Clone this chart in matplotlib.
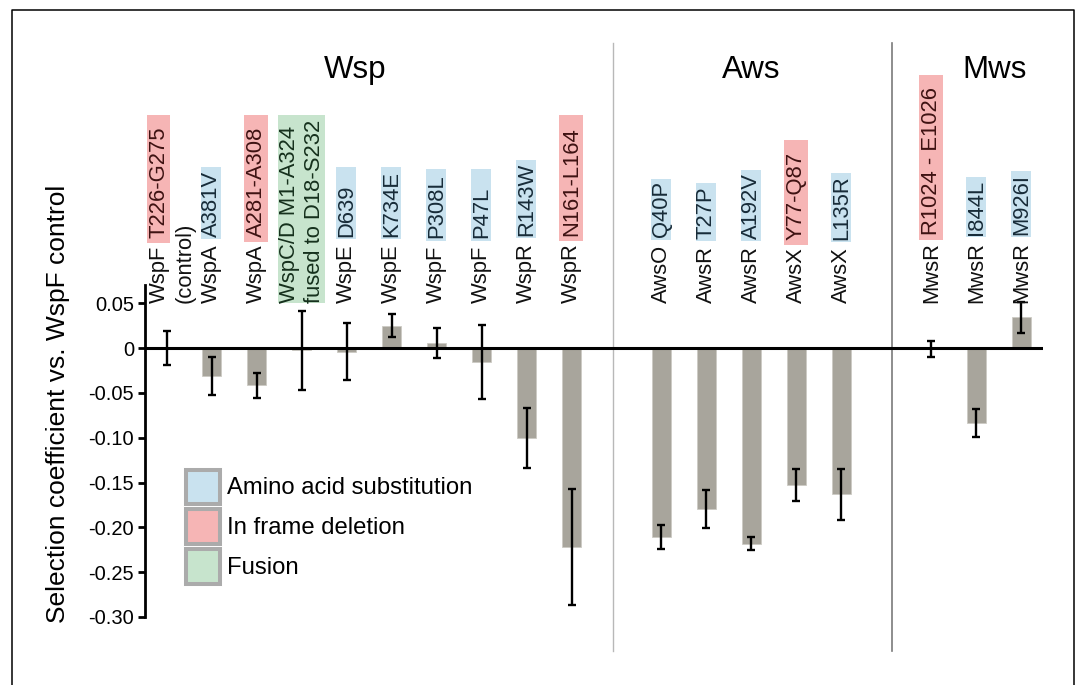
import matplotlib
matplotlib.use('Agg')
import matplotlib.pyplot as plt
import matplotlib.transforms as mtransforms
from matplotlib.patches import Patch, Rectangle
from matplotlib.lines import Line2D

plt.rcParams['font.family'] = ['Liberation Sans', 'DejaVu Sans']

# ---------------- data ----------------
group_names = ['Wsp', 'Aws', 'Mws']
genes = ['WspF', 'WspA', 'WspA', 'WspC/D', 'WspE', 'WspE', 'WspF', 'WspF', 'WspR', 'WspR',
         'AwsO', 'AwsR', 'AwsR', 'AwsX', 'AwsX',
         'MwsR', 'MwsR', 'MwsR']
mutations = ['T226-G275', 'A381V', 'A281-A308', 'M1-A324', 'D639', 'K734E', 'P308L', 'P47L',
             'R143W', 'N161-L164',
             'Q40P', 'T27P', 'A192V', 'Y77-Q87', 'L135R',
             'R1024 - E1026', 'I844L', 'M926I']
second_lines = {0: '(control)', 3: 'fused to D18-S232'}
mut_types = ['del', 'sub', 'del', 'fus', 'sub', 'sub', 'sub', 'sub', 'sub', 'del',
             'sub', 'sub', 'sub', 'del', 'sub',
             'del', 'sub', 'sub']
group_of = [0] * 10 + [1] * 5 + [2] * 3
values = [0.0005, -0.031, -0.0415, -0.0025, -0.004, 0.0252, 0.006, -0.0152, -0.1004, -0.2217,
          -0.2105, -0.1797, -0.218, -0.1529, -0.1631,
          -0.0012, -0.0832, 0.0343]
errors = [0.019, 0.021, 0.0138, 0.0445, 0.032, 0.0128, 0.017, 0.041, 0.0337, 0.0645,
          0.0135, 0.0214, 0.0075, 0.018, 0.0282,
          0.0092, 0.0155, 0.0173]
yticks = [0.05, 0, -0.05, -0.10, -0.15, -0.20, -0.25, -0.30]
yticklabels = ['0.05', '0', '-0.05', '-0.10', '-0.15', '-0.20', '-0.25', '-0.30']
legend_labels = ['Amino acid substitution', 'In frame deletion', 'Fusion']
ylabel = 'Selection coefficient vs. WspF control'

# ---------------- style ----------------
box_colors = {'sub': '#c9e2ef', 'del': '#f6b5b5', 'fus': '#c7e4cd'}
text_colors = {'sub': '#172b38', 'del': '#3e1212', 'fus': '#15301c'}
# highlight box geometry in pixels: (width, pad below text, pad above text)
box_geom = {'sub': (20.5, 2.5, 2.5), 'del': (23.5, 5.0, 12.0)}
min_box_len = [72, 58, 58]   # per group, pixels
bar_color = '#a8a59c'

W, H = 1080, 685
fig = plt.figure(figsize=(W / 100, H / 100), dpi=100)
ax_l, ax_r, ax_t, ax_b = 145, 1043, 285, 617
ax = fig.add_axes([ax_l / W, 1 - ax_b / H, (ax_r - ax_l) / W, (ax_b - ax_t) / H])
ax.patch.set_visible(False)

pos = [i + g for i, g in enumerate(group_of)]

ax.bar(pos, values, width=0.41, color=bar_color, edgecolor='#cdcbc4', linewidth=0.6, zorder=2)
ax.errorbar(pos, values, yerr=errors, fmt='none', ecolor='black', elinewidth=1.7,
            capsize=3.2, capthick=1.7, zorder=4)
ax.axhline(0, color='black', lw=2.2, zorder=3)

ax.set_xlim(-0.48, 19.48)
ax.set_ylim(-0.30, 0.0705)
for s in ['top', 'right', 'bottom']:
    ax.spines[s].set_visible(False)
ax.spines['left'].set_linewidth(2.0)
ax.set_xticks([])
ax.set_yticks(yticks)
ax.set_yticklabels(yticklabels)
ax.tick_params(axis='y', length=5, width=2, labelsize=14.5, pad=3)

fig.text(58 / W, 1 - 404 / H, ylabel, rotation=90, ha='center', va='center', fontsize=19)

trans = mtransforms.blended_transform_factory(ax.transData, fig.transFigure)

# group titles and dividers
title_x = [4.2, 13.0, 18.4]
for name, tx in zip(group_names, title_x):
    ax.text(tx, 1 - 78 / H, name, transform=trans, ha='center', va='baseline', fontsize=22.5)
ax.plot([9.93, 9.93], [1 - 43 / H, 1 - 651 / H], transform=trans, color='#b8b8b8', lw=1.0,
        clip_on=False)
ax.plot([16.13, 16.13], [1 - 43 / H, 1 - 651 / H], transform=trans, color='#7a7a7a', lw=1.2,
        clip_on=False)

# outer frame
fig.add_artist(Line2D([12 / W, 12 / W, 1074 / W, 1074 / W], [0, 1 - 9.5 / H, 1 - 9.5 / H, 0],
                      transform=fig.transFigure, color='black', lw=1.1))

# rotated category labels
fig.canvas.draw()
renderer = fig.canvas.get_renderer()
ybase = 1 - 302.5 / H
fs = 15.8
gap_px = 7
ident = mtransforms.IdentityTransform()


def shifted(dx):
    return mtransforms.offset_copy(trans, fig=fig, x=dx, y=0, units='dots')


def add_box(x0, y0, x1, y1, color):
    ax.add_patch(Rectangle((x0, y0), x1 - x0, y1 - y0, transform=ident, facecolor=color,
                           edgecolor='none', zorder=1, clip_on=False))


for i, x in enumerate(pos):
    t = mut_types[i]
    if t == 'fus':
        tr1, tr2 = shifted(-12.5), shifted(12.5)
        t1 = ax.text(x, ybase, genes[i] + ' ' + mutations[i], transform=tr1, rotation=90,
                     ha='center', va='bottom', fontsize=fs, color=text_colors[t], zorder=6)
        t2 = ax.text(x, ybase, second_lines[i], transform=tr2, rotation=90,
                     ha='center', va='bottom', fontsize=fs, color=text_colors[t], zorder=6)
        b1 = t1.get_window_extent(renderer)
        b2 = t2.get_window_extent(renderer)
        add_box(min(b1.x0, b2.x0) - 0.5, min(b1.y0, b2.y0), max(b1.x1, b2.x1) + 0.5,
                max(b1.y1, b2.y1) + 4, box_colors[t])
        continue
    if i in second_lines:
        tr1, tr2 = shifted(-7.5), shifted(18.5)
        ax.text(x, ybase, second_lines[i], transform=tr2, rotation=90,
                ha='center', va='bottom', fontsize=fs, color='#111111', zorder=6)
    else:
        tr1 = trans
    g = ax.text(x, ybase, genes[i], transform=tr1, rotation=90, ha='center', va='bottom',
                fontsize=fs, color='#111111', zorder=6)
    bb = g.get_window_extent(renderer)
    m = ax.text(x, (bb.y1 + gap_px) / H, mutations[i], transform=tr1, rotation=90,
                ha='center', va='bottom', fontsize=fs, color=text_colors[t], zorder=6)
    mb = m.get_window_extent(renderer)
    bw, pb, pt = box_geom[t]
    cx = 0.5 * (mb.x0 + mb.x1) - 0.5
    y0 = mb.y0 - pb
    y1 = mb.y1 + pt
    if t == 'sub':
        y1 = max(y1, y0 + min_box_len[group_of[i]])
    add_box(cx - bw / 2, y0, cx + bw / 2, y1, box_colors[t])

# legend
handles = [Patch(facecolor=box_colors[k], edgecolor='#ababab', linewidth=2.9)
           for k in ['sub', 'del', 'fus']]
ax.legend(handles, legend_labels, loc='upper left',
          bbox_to_anchor=(186 / W, 1 - 469.5 / H), bbox_transform=fig.transFigure,
          frameon=False, fontsize=17.2, handlelength=1.43, handleheight=1.82,
          labelspacing=0.245, handletextpad=0.3, borderpad=0, borderaxespad=0)

fig.savefig('out.png', dpi=100)
